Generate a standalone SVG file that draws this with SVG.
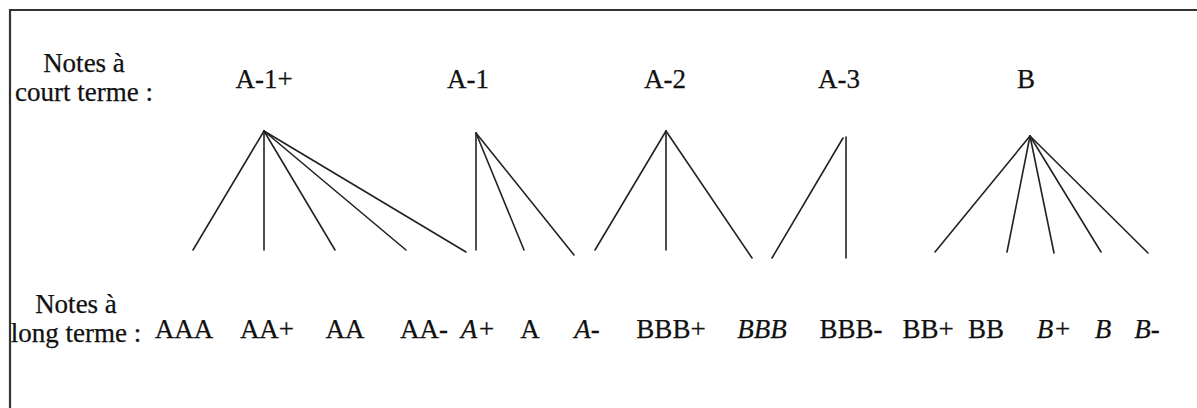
<svg xmlns="http://www.w3.org/2000/svg" width="1197" height="408" viewBox="0 0 1197 408">
<style>
  text { font-family: "Liberation Serif", "DejaVu Serif", serif; font-size: 27px; fill: #111; stroke: #111; stroke-width: 0.25px; }
  .m { text-anchor: middle; }
  .i { font-style: italic; }
  .c line { stroke: #222; stroke-width: 1.6; stroke-linecap: round; }
  .frame { stroke: #333; stroke-width: 2.2; fill: none; }
</style>
<rect width="1197" height="408" fill="#fff"/>
<path class="frame" d="M10,408 V10 H1197"/>
<g id="label-court" class="m" font-family="Liberation Serif, serif">
  <text x="84" y="72">Notes à</text>
  <text x="84" y="101">court terme :</text>
</g>
<g id="label-long" class="m">
  <text x="76" y="313">Notes à</text>
  <text x="76" y="342">long terme :</text>
</g>
<g id="n-A1p"><text class="m" x="264" y="88">A-1+</text></g>
<g id="n-A1"><text class="m" x="468" y="88">A-1</text></g>
<g id="n-A2"><text class="m" x="665" y="88">A-2</text></g>
<g id="n-A3"><text class="m" x="839" y="88">A-3</text></g>
<g id="n-B"><text class="m" x="1026" y="88">B</text></g>
<g id="long-terms" class="m">
  <g id="n-AAA"><text x="184" y="338">AAA</text></g>
  <g id="n-AAp"><text x="267" y="338">AA+</text></g>
  <g id="n-AA"><text x="345" y="338">AA</text></g>
  <g id="n-AAm"><text x="424" y="338">AA-</text></g>
  <g id="n-Ap"><text class="i" x="478" y="338">A+</text></g>
  <g id="n-A"><text x="530" y="338">A</text></g>
  <g id="n-Am"><text class="i" x="587" y="338">A-</text></g>
  <g id="n-BBBp"><text x="671" y="338">BBB+</text></g>
  <g id="n-BBB"><text class="i" x="762" y="338">BBB</text></g>
  <g id="n-BBBm"><text x="851" y="338">BBB-</text></g>
  <g id="n-BBp"><text x="928" y="338">BB+</text></g>
  <g id="n-BB"><text x="986" y="338">BB</text></g>
  <g id="n-Bp"><text class="i" x="1054" y="338">B+</text></g>
  <g id="n-B2"><text class="i" x="1103" y="338">B</text></g>
  <g id="n-Bm"><text class="i" x="1147" y="338">B-</text></g>
</g>
<g id="connectors" class="c">
  <line x1="264" y1="131" x2="193" y2="250"/>
  <line x1="264" y1="131" x2="264" y2="250"/>
  <line x1="264" y1="131" x2="335" y2="250"/>
  <line x1="264" y1="131" x2="406" y2="250"/>
  <line x1="264" y1="131" x2="466" y2="252"/>
  <line x1="476" y1="133" x2="476" y2="250"/>
  <line x1="476" y1="133" x2="524" y2="250"/>
  <line x1="476" y1="133" x2="574" y2="255"/>
  <line x1="666" y1="131" x2="595" y2="250"/>
  <line x1="666" y1="131" x2="666" y2="250"/>
  <line x1="666" y1="131" x2="752" y2="258"/>
  <line x1="843" y1="138" x2="772" y2="258"/>
  <line x1="846" y1="137" x2="846" y2="258"/>
  <line x1="1030" y1="136" x2="935" y2="252"/>
  <line x1="1030" y1="136" x2="1007" y2="252"/>
  <line x1="1030" y1="136" x2="1054" y2="253"/>
  <line x1="1030" y1="136" x2="1101" y2="252"/>
  <line x1="1030" y1="136" x2="1148" y2="253"/>
</g>
</svg>
